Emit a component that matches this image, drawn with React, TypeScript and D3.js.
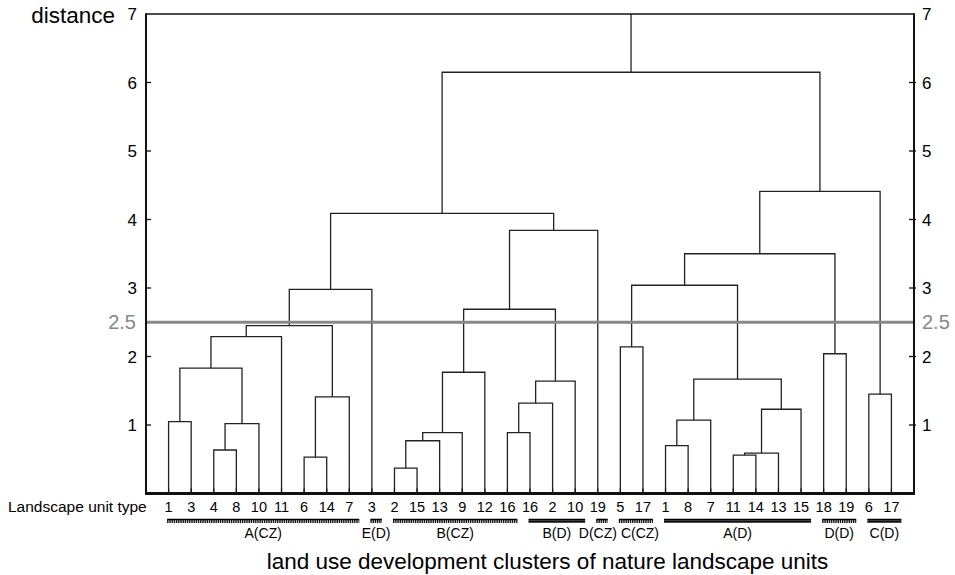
import React from "react";
import * as d3 from "d3";

// ---- data ----
const leafLabels = [
  "1", "3", "4", "8", "10", "11", "6", "14", "7",
  "3",
  "2", "15", "13", "9", "12", "16",
  "16", "2", "10",
  "19",
  "5", "17",
  "1", "8", "7", "11", "14", "13", "15",
  "18", "19",
  "6", "17",
];
// merges: [childA, childB, distance]; child < 33 is a leaf index, otherwise 33 + merge index
const merges: [number, number, number][] = [
  [0, 1, 1.05],
  [2, 3, 0.635],
  [34, 4, 1.02],
  [33, 35, 1.83],
  [36, 5, 2.29],
  [6, 7, 0.53],
  [38, 8, 1.41],
  [37, 39, 2.45],
  [40, 9, 2.98],
  [10, 11, 0.37],
  [42, 12, 0.77],
  [43, 13, 0.89],
  [44, 14, 1.77],
  [15, 16, 0.89],
  [46, 17, 1.32],
  [47, 18, 1.64],
  [45, 48, 2.69],
  [49, 19, 3.84],
  [41, 50, 4.09],
  [20, 21, 2.14],
  [22, 23, 0.7],
  [53, 24, 1.07],
  [25, 26, 0.56],
  [55, 27, 0.59],
  [56, 28, 1.23],
  [54, 57, 1.67],
  [52, 58, 3.04],
  [29, 30, 2.04],
  [59, 60, 3.5],
  [31, 32, 1.45],
  [61, 62, 4.41],
  [51, 63, 6.15],
];
const groupNames = ["A(CZ)", "E(D)", "B(CZ)", "B(D)", "D(CZ)", "C(CZ)", "A(D)", "D(D)", "C(D)"];
const groupSizes = [9, 1, 6, 3, 1, 2, 7, 2, 2];
const yTicks = [1, 2, 3, 4, 5, 6, 7];
const threshold = 2.5;
const yMax = 7;

const FONT = "'Liberation Sans', Arial, Helvetica, sans-serif";
const solidGroups = new Set(["B(D)", "A(D)", "C(D)"]);

// rough Arial advance widths for label layout
const charW: Record<string, number> = {
  A: 0.667, B: 0.667, C: 0.722, D: 0.722, E: 0.667, Z: 0.611, "(": 0.333, ")": 0.333,
};
const textWidth = (s: string, size: number) =>
  s.split("").reduce((acc, c) => acc + (charW[c] ?? 0.556), 0) * size;

export default function App() {
  const left = 146, right = 914, top = 14, bottom = 493.5;
  const n = leafLabels.length;
  const x = d3.scaleLinear().domain([-1, n]).range([left, right]);
  const y = d3.scaleLinear().domain([0, yMax]).range([bottom, top]);

  // node positions
  const nodeX: number[] = leafLabels.map((_, i) => x(i));
  const nodeH: number[] = leafLabels.map(() => 0);
  const paths: string[] = [];
  merges.forEach(([a, b, h]) => {
    const xa = nodeX[a], xb = nodeX[b];
    const p = d3.path();
    p.moveTo(xa, y(nodeH[a]));
    p.lineTo(xa, y(h));
    p.lineTo(xb, y(h));
    p.lineTo(xb, y(nodeH[b]));
    paths.push(p.toString());
    nodeX.push((xa + xb) / 2);
    nodeH.push(h);
  });
  const rootX = nodeX[nodeX.length - 1];
  const rootH = nodeH[nodeH.length - 1];

  // groups
  const groupFont = 14;
  let start = 0;
  const groups = groupNames.map((name, gi) => {
    const s = start;
    const e = start + groupSizes[gi] - 1;
    start += groupSizes[gi];
    const x0 = x(s) - 1.5;
    const x1 = x(e) + 10;
    return { name, x0, x1, cx: (x0 + x1) / 2, w: textWidth(name, groupFont) };
  });
  // push overlapping labels apart
  for (let iter = 0; iter < 5; iter++) {
    for (let i = 0; i < groups.length - 1; i++) {
      const a = groups[i], b = groups[i + 1];
      const need = a.w / 2 + b.w / 2 + 4;
      const gap = b.cx - a.cx;
      if (gap < need) {
        const d = (need - gap) / 2;
        a.cx -= d;
        b.cx += d;
      }
    }
  }

  const lineColor = "#222";
  const ink = "#000";
  return (
    <svg
      width={955}
      height={575}
      style={{ position: "absolute", left: 0, top: 0, background: "#fff" }}
      fontFamily={FONT}
    >
      <rect x={0} y={0} width={955} height={575} fill="#fff" />
      {/* dendrogram */}
      <g fill="none" stroke={lineColor} strokeWidth={1.3}>
        {paths.map((d, i) => (
          <path key={i} d={d} />
        ))}
        <line x1={rootX} x2={rootX} y1={y(rootH)} y2={y(yMax)} />
      </g>
      {/* threshold */}
      <line x1={left} x2={right} y1={y(threshold)} y2={y(threshold)} stroke="#888" strokeWidth={3} />
      <text x={136} y={y(threshold)} dy="0.36em" textAnchor="end" fontSize={20} fill="#888">
        {threshold}
      </text>
      <text x={922} y={y(threshold)} dy="0.36em" textAnchor="start" fontSize={20} fill="#888">
        {threshold}
      </text>
      {/* frame */}
      <line x1={left} x2={right} y1={top} y2={top} stroke="#111" strokeWidth={1.5} />
      <line x1={left} x2={left} y1={top - 0.75} y2={bottom} stroke="#111" strokeWidth={2} />
      <line x1={right} x2={right} y1={top - 0.75} y2={bottom} stroke="#111" strokeWidth={2} />
      <line x1={left - 1} x2={right + 1} y1={bottom} y2={bottom} stroke="#111" strokeWidth={3} />
      {/* y ticks */}
      {yTicks.map((t) => (
        <g key={t}>
          {t < yMax && (
            <>
              <line x1={left} x2={left + 5} y1={y(t)} y2={y(t)} stroke="#111" strokeWidth={1.3} />
              <line x1={right - 5} x2={right + 2} y1={y(t)} y2={y(t)} stroke="#111" strokeWidth={1.3} />
            </>
          )}
          <text x={137} y={y(t)} dy="0.36em" textAnchor="end" fontSize={17} fill={ink}>
            {t}
          </text>
          <text x={922} y={y(t)} dy="0.36em" textAnchor="start" fontSize={17} fill={ink}>
            {t}
          </text>
        </g>
      ))}
      {/* bottom leaf ticks */}
      {leafLabels.map((_, i) => (
        <line key={i} x1={x(i)} x2={x(i)} y1={bottom} y2={bottom - 5} stroke="#111" strokeWidth={1.2} />
      ))}
      {/* leaf labels */}
      {leafLabels.map((l, i) => (
        <text key={i} x={x(i)} y={512} textAnchor="middle" fontSize={14.5} fill={ink}>
          {l}
        </text>
      ))}
      <text x={8} y={512} fontSize={15.5} fill={ink}>
        Landscape unit type
      </text>
      {/* group bars */}
      {groups.map((g) => (
        <g key={g.name}>
          <line x1={g.x0} x2={g.x1} y1={519.5} y2={519.5} stroke="#000" strokeWidth={1.6} />
          <line
            x1={g.x0}
            x2={g.x1}
            y1={521.5}
            y2={521.5}
            stroke="#111"
            strokeWidth={solidGroups.has(g.name) ? 2.5 : 3}
            strokeDasharray={solidGroups.has(g.name) ? undefined : "1.4 0.8"}
          />
          <text x={g.cx} y={537.5} textAnchor="middle" fontSize={groupFont} fill={ink}>
            {g.name}
          </text>
        </g>
      ))}
      {/* titles */}
      <text x={115} y={23} textAnchor="end" fontSize={22.5} fill={ink}>
        distance
      </text>
      <text x={547.5} y={569} textAnchor="middle" fontSize={22.5} fill={ink}>
        land use development clusters of nature landscape units
      </text>
    </svg>
  );
}
